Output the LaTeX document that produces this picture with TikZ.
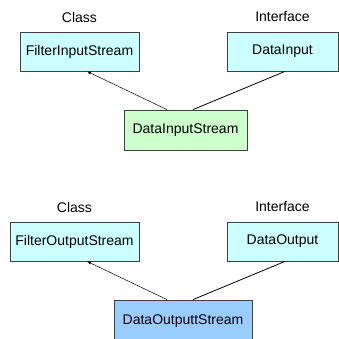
\documentclass[tikz,border=0pt]{standalone}
\usepackage{fontspec}
\setmainfont{Liberation Sans}
\usepackage{tikz}
\usetikzlibrary{positioning, arrows.meta}

\definecolor{classfill}{RGB}{204,255,255}
\definecolor{implfill}{RGB}{204,255,204}
\definecolor{outfill}{RGB}{153,204,255}

\tikzset{
    box/.style = {draw=black!75, line width=0.8pt, minimum height=39pt,
                  inner sep=0pt, font=\fontsize{14}{16}\selectfont},
    classbox/.style = {box, fill=classfill},
    implbox/.style = {box, fill=implfill},
    outbox/.style = {box, fill=outfill},
    kind/.style = {font=\fontsize{14}{16}\selectfont},
    extends/.style = {-{Latex[length=4pt,width=3pt]}, line width=0.5pt},
    implements/.style = {line width=0.8pt}
}

\begin{document}
\begin{tikzpicture} [x=1pt, y=-1pt,
                node distance = 2cm,
                on grid]

            \useasboundingbox (0,0) rectangle (339,339);

            % Input side
            \node (fis) [classbox, minimum width=119pt] at (79.5,51.5) {FilterInputStream};
            \node (di) [classbox, minimum width=111pt,
                right = 203pt of fis] {DataInput};
            \node (dis) [implbox, minimum width=123pt, minimum height=40pt,
                below right = 78.5pt and 106pt of fis] {DataInputStream};

            \node (fisKind) [kind, above = 34.5pt of fis] {Class};
            \node (diKind) [kind, above = 34.5pt of di] {Interface};

            % Output side
            \node (fos) [classbox, minimum width=129pt] at (74.5,241.5) {FilterOutputStream};
            \node (do) [classbox, minimum width=111pt,
                right = 208pt of fos] {DataOutput};
            \node (dos) [outbox, minimum width=138pt, minimum height=43pt,
                below right = 80pt and 108.5pt of fos] {DataOutputtStream};

            \node (fosKind) [kind, above = 34.5pt of fos] {Class};
            \node (doKind) [kind, above = 34.5pt of do] {Interface};

            % Arrows
            \draw [extends] ([xshift=-18.5pt]dis.north) -- ([xshift=7.5pt]fis.south);
            \draw [implements] ([xshift=7.5pt]dis.north) -- ([xshift=2.5pt]di.south);

            \draw [extends] ([xshift=-16pt]dos.north) -- ([xshift=12.5pt]fos.south);
            \draw [implements] ([xshift=10pt]dos.north) -- ([xshift=2.5pt]do.south);
\end{tikzpicture}
\end{document}
